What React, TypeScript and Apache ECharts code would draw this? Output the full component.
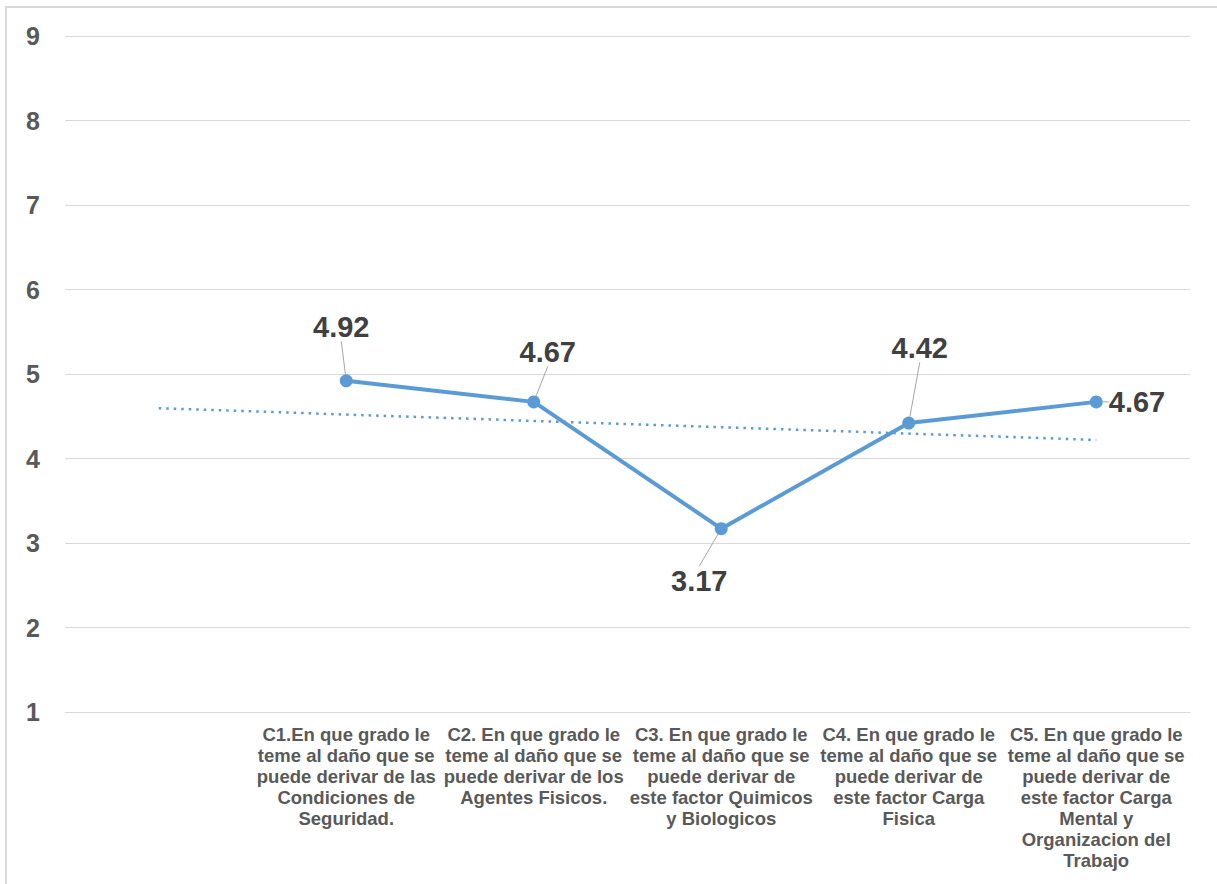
import React, { useEffect, useRef } from "react";
import * as echarts from "echarts";

const categories = [
  "",
  "C1.En que grado le\nteme al daño que se\npuede derivar de las\nCondiciones de\nSeguridad.",
  "C2. En que grado le\nteme al daño que se\npuede derivar de los\nAgentes Fisicos.",
  "C3. En que grado le\nteme al daño que se\npuede derivar de\neste factor Quimicos\ny Biologicos",
  "C4. En que grado le\nteme al daño que se\npuede derivar de\neste factor Carga\nFisica",
  "C5. En que grado le\nteme al daño que se\npuede derivar de\neste factor Carga\nMental y\nOrganizacion del\nTrabajo",
];
const values: (number | null)[] = [null, 4.92, 4.67, 3.17, 4.42, 4.67];
const yTicks = [1, 2, 3, 4, 5, 6, 7, 8, 9];

// linear trendline (Excel style, x = 1..n over all categories)
function trend(): number[] {
  const pts: [number, number][] = [];
  values.forEach((v, i) => {
    if (v !== null) pts.push([i + 1, v]);
  });
  const n = pts.length;
  const mx = pts.reduce((s, p) => s + p[0], 0) / n;
  const my = pts.reduce((s, p) => s + p[1], 0) / n;
  let num = 0;
  let den = 0;
  pts.forEach(([x, y]) => {
    num += (x - mx) * (y - my);
    den += (x - mx) * (x - mx);
  });
  const b = num / den;
  const a = my - b * mx;
  return categories.map((_, i) => +(a + b * (i + 1)).toFixed(4));
}

const labelShift: { dx: number; dy: number }[] = [
  { dx: 0, dy: 0 },
  { dx: -5, dy: -27 },
  { dx: 14, dy: -23 },
  { dx: -22, dy: 25 },
  { dx: 11, dy: -48 },
  { dx: 0, dy: 0 },
];
const labelPos = ["top", "top", "top", "bottom", "top", "right"];

export default function App() {
  const ref = useRef<HTMLDivElement>(null);
  useEffect(() => {
    document.body.style.margin = "0";
    const chart = echarts.init(ref.current!, null, { renderer: "svg" });
    const font = "'Liberation Sans', Arial, sans-serif";
    chart.setOption({
      animation: false,
      backgroundColor: "#ffffff",
      textStyle: { fontFamily: font },
      graphic: [
        {
          type: "rect",
          shape: { x: 6, y: 7, width: 1240, height: 900 },
          style: { fill: "none", stroke: "#d9d9d9", lineWidth: 2 },
          silent: true,
        },
      ],
      grid: { left: 65, right: 27, top: 36, bottom: 172, containLabel: false },
      xAxis: {
        type: "category",
        data: categories,
        boundaryGap: true,
        axisLine: { show: true, lineStyle: { color: "#d9d9d9", width: 1 } },
        axisTick: { show: false },
        axisLabel: {
          interval: 0,
          color: "#595959",
          fontWeight: "bold",
          fontSize: 18.5,
          lineHeight: 21,
          fontFamily: font,
          margin: 12,
          align: "center",
        },
      },
      yAxis: {
        type: "value",
        min: yTicks[0],
        max: yTicks[yTicks.length - 1],
        interval: 1,
        axisLine: { show: false },
        axisTick: { show: false },
        splitLine: { lineStyle: { color: "#d9d9d9", width: 1 } },
        axisLabel: {
          color: "#595959",
          fontWeight: "bold",
          fontSize: 25,
          fontFamily: font,
          margin: 25,
        },
      },
      series: [
        {
          name: "Tendencia",
          type: "line",
          data: trend(),
          symbol: "none",
          z: 1,
          lineStyle: { color: "#5b9bd5", width: 2.5, type: [2.5, 5] },
          silent: true,
        },
        {
          name: "Promedio",
          type: "line",
          data: values.map((v, i) => ({
            value: v,
            label: { position: labelPos[i] },
          })),
          z: 3,
          symbol: "circle",
          symbolSize: 13,
          itemStyle: { color: "#5b9bd5" },
          lineStyle: { color: "#5b9bd5", width: 4 },
          label: {
            show: true,
            color: "#404040",
            fontWeight: "bold",
            fontSize: 29,
            fontFamily: font,
            distance: 6,
            formatter: (p: any) => (p.value == null ? "" : Number(p.value).toFixed(2)),
          },
          labelLine: { show: true, lineStyle: { color: "#a6a6a6", width: 1 } },
          labelLayout: (p: any) => labelShift[p.dataIndex] || { dx: 0, dy: 0 },
        },
      ],
    });
    return () => chart.dispose();
  }, []);
  return (
    <div
      ref={ref}
      style={{ position: "absolute", left: 0, top: 0, width: 1217, height: 884 }}
    />
  );
}
